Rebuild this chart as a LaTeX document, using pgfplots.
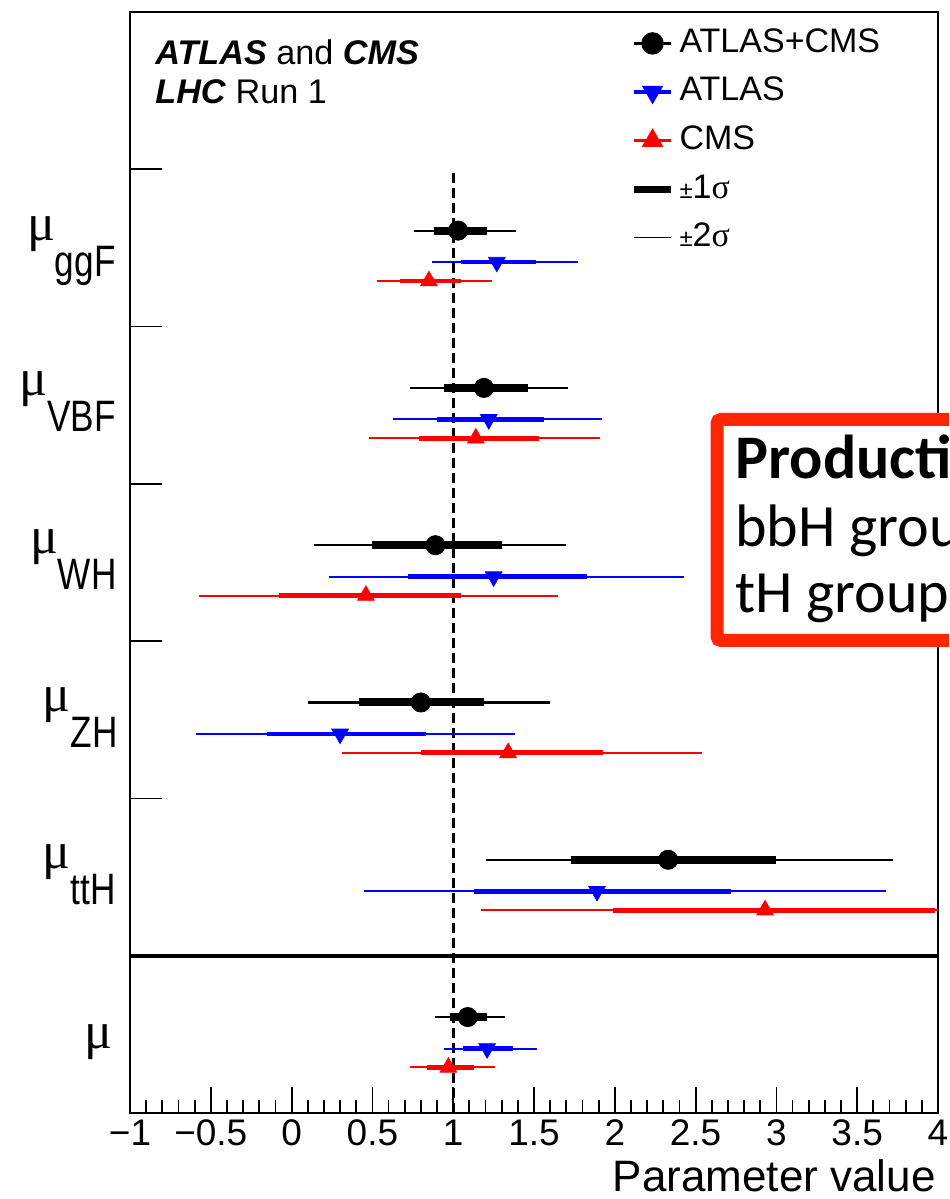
\documentclass[border=0pt]{standalone}
\usepackage{fontspec}
\setmainfont{Liberation Sans}
\newfontfamily\symf{Liberation Serif}
\newfontfamily\cali{Carlito}
\usepackage{pgfplots}
\pgfplotsset{compat=1.18}
\usepackage{pgfplotstable}

\definecolor{boxred}{RGB}{255,38,0}

% y: combined at k+0.61, ATLAS at k+0.41, CMS at k+0.29
\pgfplotstableread{
y    x    lo1   hi1   lo2   hi2
5.61 1.03 0.88  1.21  0.76  1.39
4.61 1.19 0.94  1.46  0.73  1.71
3.61 0.89 0.50  1.30  0.14  1.70
2.61 0.80 0.42  1.19  0.10  1.60
1.61 2.33 1.73  3.00  1.20  3.72
0.61 1.09 0.98  1.21  0.89  1.32
}\comb
\pgfplotstableread{
y    x    lo1   hi1   lo2   hi2
5.41 1.27 1.05  1.51  0.87  1.77
4.41 1.22 0.90  1.56  0.63  1.92
3.41 1.25 0.72  1.83  0.23  2.43
2.41 0.30 -0.15 0.83  -0.59 1.38
1.41 1.89 1.13  2.72  0.45  3.68
0.41 1.21 1.06  1.37  0.94  1.52
}\atlas
\pgfplotstableread{
y    x    lo1   hi1   lo2   hi2
5.29 0.85 0.67  1.05  0.53  1.24
4.29 1.14 0.79  1.53  0.48  1.91
3.29 0.46 -0.08 1.05  -0.57 1.65
2.29 1.34 0.80  1.93  0.31  2.54
1.29 2.93 1.99  3.98  1.17  4.90
0.29 0.97 0.84  1.13  0.73  1.26
}\cms

\newcommand{\lbl}[1]{\raisebox{18pt}{\fontsize{26}{26}\selectfont\symf μ}\scalebox{0.8}[1]{\fontsize{22}{22}\selectfont #1}}

\begin{document}
\begin{tikzpicture}
\path[use as bounding box] (0,0) rectangle (474.5pt,599.5pt);
\clip (0,0) rectangle (474.5pt,599.5pt);
\begin{axis}[
  at={(65pt,43pt)}, anchor=south west,
  scale only axis, width=404pt, height=550.5pt,
  xmin=-1, xmax=4, ymin=0, ymax=7,
  axis line style={line width=1pt},
  every tick/.style={black, line width=0.9pt},
  tick align=inside,
  xtick pos=bottom, ytick pos=left,
  xtick={-1,-0.5,...,4},
  xticklabels={−1,−0.5,0,0.5,1,1.5,2,2.5,3,3.5,4},
  xticklabel style={font=\fontsize{18.5}{18.5}\selectfont},
  minor x tick num=4,
  major tick length=13pt, minor tick length=6.5pt,
  ytick=\empty,
  extra y ticks={2,3,4,5,6}, extra y tick labels={},
  extra y tick style={major tick length=16pt},
  legend style={at={(0.619,0.99)}, anchor=north west, draw=none, fill=none,
    inner sep=0pt, row sep=4.3pt,
    font=\fontsize{17}{17}\selectfont,
    nodes={inner sep=2.5pt, text height=12pt, text depth=3pt}},
  legend cell align=left,
]
\addlegendimage{black, line width=1.6pt, mark=*, mark size=4.8pt,
  legend image code/.code={\draw[mark repeat=2,mark phase=2] plot coordinates {(0pt,0pt) (9.25pt,0pt) (18.5pt,0pt)};}}
\addlegendentry{ATLAS+CMS}
\addlegendimage{blue, line width=1.6pt, mark=triangle*, mark size=4.6pt, mark options={rotate=180},
  legend image code/.code={\draw[mark repeat=2,mark phase=2] plot coordinates {(0pt,0pt) (9.25pt,0pt) (18.5pt,0pt)};}}
\addlegendentry{ATLAS}
\addlegendimage{red, line width=1.6pt, mark=triangle*, mark size=4.6pt,
  legend image code/.code={\draw[mark repeat=2,mark phase=2] plot coordinates {(0pt,0pt) (9.25pt,0pt) (18.5pt,0pt)};}}
\addlegendentry{CMS}
\addlegendimage{black, line width=3.5pt,
  legend image code/.code={\draw (0pt,0pt) -- (18.5pt,0pt);}}
\addlegendentry{{\fontsize{12}{12}\selectfont ±}1{\symf σ}}
\addlegendimage{black, line width=0.6pt,
  legend image code/.code={\draw (0pt,0pt) -- (18.5pt,0pt);}}
\addlegendentry{{\fontsize{12}{12}\selectfont ±}2{\symf σ}}

% reference lines
\addplot[forget plot, black, line width=1.5pt, dash pattern=on 5pt off 2.5pt] coordinates {(1,0) (1,6)};
\addplot[forget plot, black, line width=2pt] coordinates {(-1,1) (4,1)};

% combined
\addplot[forget plot, only marks, mark=none, error bars/.cd, x dir=both, x explicit, error mark=none,
  error bar style={black, line width=1.1pt}]
  table[x=x, y=y, x error plus expr=\thisrow{hi2}-\thisrow{x}, x error minus expr=\thisrow{x}-\thisrow{lo2}] {\comb};
\addplot[forget plot, only marks, mark=*, mark size=4.8pt, black, error bars/.cd, x dir=both, x explicit, error mark=none,
  error bar style={black, line width=4pt}]
  table[x=x, y=y, x error plus expr=\thisrow{hi1}-\thisrow{x}, x error minus expr=\thisrow{x}-\thisrow{lo1}] {\comb};
% ATLAS
\addplot[forget plot, only marks, mark=none, error bars/.cd, x dir=both, x explicit, error mark=none,
  error bar style={blue, line width=1pt}]
  table[x=x, y=y, x error plus expr=\thisrow{hi2}-\thisrow{x}, x error minus expr=\thisrow{x}-\thisrow{lo2}] {\atlas};
\addplot[forget plot, only marks, mark=triangle*, mark size=4.8pt, mark options={rotate=180}, blue, error bars/.cd, x dir=both, x explicit, error mark=none,
  error bar style={blue, line width=2.4pt}]
  table[x=x, y=y, x error plus expr=\thisrow{hi1}-\thisrow{x}, x error minus expr=\thisrow{x}-\thisrow{lo1}] {\atlas};
% CMS
\addplot[forget plot, only marks, mark=none, error bars/.cd, x dir=both, x explicit, error mark=none,
  error bar style={red, line width=1pt}]
  table[x=x, y=y, x error plus expr=\thisrow{hi2}-\thisrow{x}, x error minus expr=\thisrow{x}-\thisrow{lo2}] {\cms};
\addplot[forget plot, only marks, mark=triangle*, mark size=4.8pt, red, error bars/.cd, x dir=both, x explicit, error mark=none,
  error bar style={red, line width=2.4pt}]
  table[x=x, y=y, x error plus expr=\thisrow{hi1}-\thisrow{x}, x error minus expr=\thisrow{x}-\thisrow{lo1}] {\cms};
\end{axis}

\begin{scope}[x=0.5pt, y=-0.5pt, shift={(0pt,599.5pt)}, every node/.style={inner sep=0pt}]
\node[anchor=base west] at (155,65) {\fontsize{17.1}{20}\selectfont\textbf{\textit{ATLAS}} and \textbf{\textit{CMS}}};
\node[anchor=base west] at (155,104) {\fontsize{17.1}{20}\selectfont\textbf{\textit{LHC}} Run 1};
\node[anchor=base east] at (116,277) {\lbl{ggF}};
\node[anchor=base east] at (116,432) {\lbl{VBF}};
\node[anchor=base east] at (117,590) {\lbl{WH}};
\node[anchor=base east] at (118,748) {\lbl{ZH}};
\node[anchor=base east] at (116,905) {\lbl{ttH}};
\node[anchor=base east] at (113,1049) {\fontsize{26}{26}\selectfont\symf μ};
\node[anchor=base east] at (936,1192) {\fontsize{22}{22}\selectfont Parameter value};
% overlay note box
\draw[boxred, line width=6.5pt, fill=white, rounded corners=2pt] (717,419.5) rectangle (1200,640.5);
\node[anchor=base west] at (735,479) {\cali\fontsize{31}{31}\selectfont\bfseries Production modes:};
\node[anchor=base west] at (735,546.7) {\cali\fontsize{30}{30}\selectfont bbH grouped with ggF};
\node[anchor=base west] at (735,612.7) {\cali\fontsize{30}{30}\selectfont tH grouped with ttH};
\end{scope}
\end{tikzpicture}
\end{document}
